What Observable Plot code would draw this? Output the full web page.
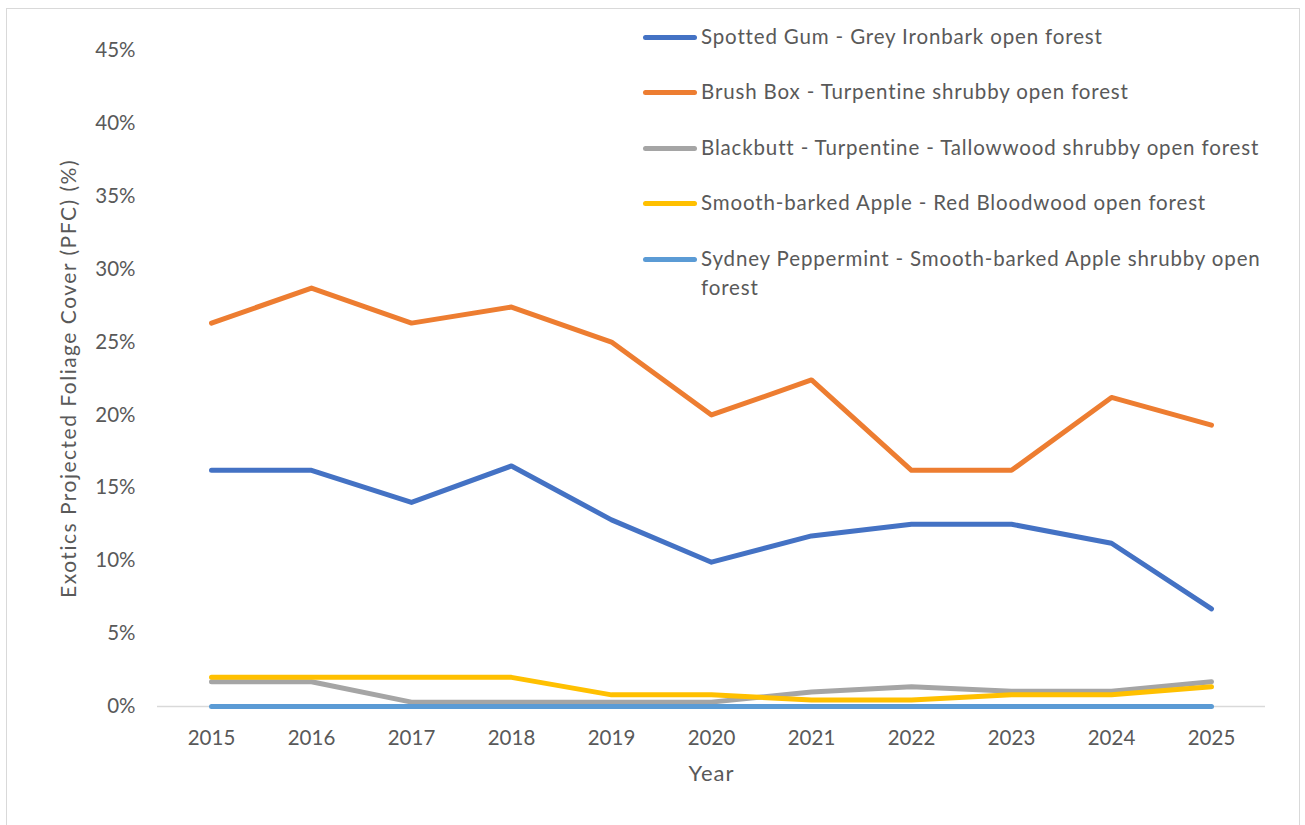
<!DOCTYPE html>
<html>
<head>
<meta charset="utf-8">
<script src="https://cdn.jsdelivr.net/npm/d3@7"></script>
<script src="https://cdn.jsdelivr.net/npm/@observablehq/plot@0.6"></script>
<style>
  html, body { margin: 0; padding: 0; background: #fff; }
  #wrap { position: relative; width: 1305px; height: 825px; overflow: hidden; font-family: Lato, "Open Sans", sans-serif; }
  #frame { position: absolute; left: 6px; top: 8px; width: 1294px; height: 840px; border: 1.5px solid #d9d9d9; box-sizing: border-box; pointer-events: none; }
  #chart { position: absolute; left: 0; top: 0; }
  #legend { position: absolute; left: 643px; top: 22px; color: #595959; font-size: 20.5px; letter-spacing: 0.85px; }
  .item { position: absolute; left: 0; display: flex; align-items: flex-start; white-space: nowrap; }
  .sw { width: 54px; height: 5px; border-radius: 3px; margin-top: 13px; flex: none; }
  .lab { margin-left: 4px; line-height: 29px; }
</style>
</head>
<body>
<div id="wrap">
  <div id="frame"></div>
  <div id="chart"></div>
  <div id="legend"></div>
</div>
<script>
const years = [2015, 2016, 2017, 2018, 2019, 2020, 2021, 2022, 2023, 2024, 2025];
const seriesNames = [
  "Spotted Gum - Grey Ironbark open forest",
  "Brush Box - Turpentine shrubby open forest",
  "Blackbutt - Turpentine - Tallowwood shrubby open forest",
  "Smooth-barked Apple - Red Bloodwood open forest",
  "Sydney Peppermint - Smooth-barked Apple shrubby open forest"
];
const spottedGum   = [16.2, 16.2, 14.0, 16.5, 12.8, 9.9, 11.7, 12.5, 12.5, 11.2, 6.7];
const brushBox     = [26.3, 28.7, 26.3, 27.4, 25.0, 20.0, 22.4, 16.2, 16.2, 21.2, 19.3];
const blackbutt    = [1.7, 1.7, 0.3, 0.3, 0.3, 0.3, 1.0, 1.35, 1.05, 1.05, 1.7];
const smoothApple  = [2.0, 2.0, 2.0, 2.0, 0.8, 0.8, 0.45, 0.45, 0.8, 0.8, 1.35];
const sydneyPep    = [0, 0, 0, 0, 0, 0, 0, 0, 0, 0, 0];
const seriesValues = [spottedGum, brushBox, blackbutt, smoothApple, sydneyPep];
const colors = ["#4472C4", "#ED7D31", "#A5A5A5", "#FFC000", "#5B9BD5"];
const yTicks = [0, 5, 10, 15, 20, 25, 30, 35, 40, 45];
const yTitle = "Exotics Projected Foliage Cover (PFC) (%)";
const xTitle = "Year";

const rows = seriesNames.map((name, i) => years.map((year, j) => ({series: name, year, value: seriesValues[i][j]})));

const chart = Plot.plot({
  width: 1305,
  height: 825,
  marginLeft: 157,
  marginRight: 40,
  marginTop: 50,
  marginBottom: 119,
  style: {fontFamily: "Lato, 'Open Sans', sans-serif", fontSize: "20.5px", color: "#595959", background: "transparent"},
  x: {type: "point", domain: years, padding: 0.5},
  y: {domain: [0, 45]},
  color: {domain: seriesNames, range: colors},
  marks: [
    Plot.axisY({ticks: yTicks, tickSize: 0, tickPadding: 22, tickFormat: d => d + "%", fill: "#595959",
      label: yTitle, labelAnchor: "center", labelArrow: "none", labelOffset: 96}),
    Plot.axisX({tickSize: 0, tickPadding: 24, tickFormat: d => String(d), fill: "#595959",
      label: xTitle, labelAnchor: "center", labelArrow: "none", labelOffset: 74}),
    Plot.ruleY([0], {stroke: "#d9d9d9", strokeWidth: 1.5}),
    ...rows.map(r => Plot.line(r, {x: "year", y: "value", stroke: "series", strokeWidth: 5, strokeLinecap: "round", strokeLinejoin: "round"}))
  ]
});
d3.select(chart).selectAll('g[aria-label="y-axis label"]').style("font-size", "21px").style("letter-spacing", "1.5px");
d3.select(chart).selectAll('g[aria-label="x-axis label"]').style("font-size", "22px").style("letter-spacing", "1px");
document.getElementById("chart").appendChild(chart);

const legend = d3.select("#legend");
seriesNames.forEach((name, i) => {
  const item = legend.append("div").attr("class", "item").style("top", (i * 55.4) + "px");
  item.append("div").attr("class", "sw").style("background", colors[i]);
  const lab = item.append("div").attr("class", "lab");
  if (name.length > 56) {
    const k = name.lastIndexOf(" ");
    lab.html(name.slice(0, k) + "<br>" + name.slice(k + 1));
  } else {
    lab.text(name);
  }
});
</script>
</body>
</html>
